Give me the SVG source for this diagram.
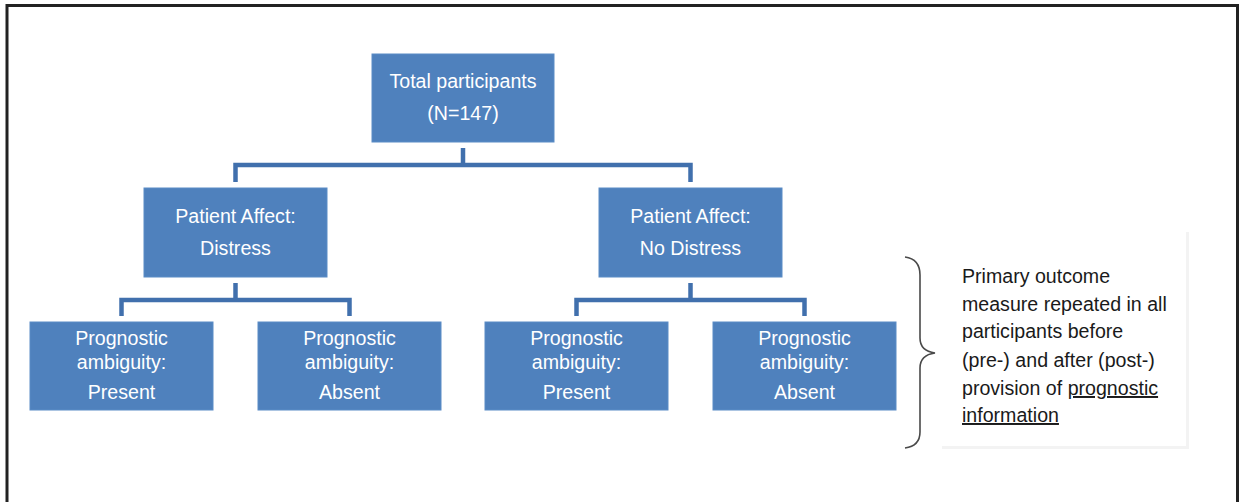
<svg xmlns="http://www.w3.org/2000/svg" width="1245" height="502" viewBox="0 0 1245 502">
  <style>
    .box { fill: #4f81bd; stroke: #5b8cc6; stroke-width: 1; }
    .lbl { fill: #ffffff; font-family: "Liberation Sans", Arial, sans-serif; font-size: 19.6px; text-anchor: middle; }
    .conn { fill: none; stroke: #4170ad; stroke-width: 4.5; stroke-linejoin: miter; }
    .note { fill: #1a1a1a; font-family: "Liberation Sans", Arial, sans-serif; font-size: 19.6px; }
  </style>
  <rect x="0" y="0" width="1245" height="502" fill="#ffffff"/>
  <path d="M7 502 V5.5 H1237.5 V502" fill="none" stroke="#222222" stroke-width="3"/>

  <g id="connectors">
    <path class="conn" d="M463 148 V165 M235.5 182 V165 H690.5 V182"/>
    <path class="conn" d="M235.5 283 V300 M121.5 316 V300 H349.5 V316"/>
    <path class="conn" d="M690.5 283 V300 M576.5 316 V300 H804.5 V316"/>
  </g>

  <g id="n-total">
    <rect class="box" x="372" y="54" width="182" height="88"/>
    <text class="lbl" x="463" y="88">Total participants</text>
    <text class="lbl" x="463" y="120">(N=147)</text>
  </g>

  <g id="n-distress">
    <rect class="box" x="144" y="188" width="183" height="89"/>
    <text class="lbl" x="235.5" y="223">Patient Affect:</text>
    <text class="lbl" x="235.5" y="255">Distress</text>
  </g>

  <g id="n-nodistress">
    <rect class="box" x="599" y="188" width="183" height="89"/>
    <text class="lbl" x="690.5" y="223">Patient Affect:</text>
    <text class="lbl" x="690.5" y="255">No Distress</text>
  </g>

  <g id="n-d-present">
    <rect class="box" x="30" y="322" width="183" height="88"/>
    <text class="lbl" x="121.5" y="345">Prognostic</text>
    <text class="lbl" x="121.5" y="369">ambiguity:</text>
    <text class="lbl" x="121.5" y="399">Present</text>
  </g>

  <g id="n-d-absent">
    <rect class="box" x="258" y="322" width="183" height="88"/>
    <text class="lbl" x="349.5" y="345">Prognostic</text>
    <text class="lbl" x="349.5" y="369">ambiguity:</text>
    <text class="lbl" x="349.5" y="399">Absent</text>
  </g>

  <g id="n-nd-present">
    <rect class="box" x="485" y="322" width="183" height="88"/>
    <text class="lbl" x="576.5" y="345">Prognostic</text>
    <text class="lbl" x="576.5" y="369">ambiguity:</text>
    <text class="lbl" x="576.5" y="399">Present</text>
  </g>

  <g id="n-nd-absent">
    <rect class="box" x="713" y="322" width="183" height="88"/>
    <text class="lbl" x="804.5" y="345">Prognostic</text>
    <text class="lbl" x="804.5" y="369">ambiguity:</text>
    <text class="lbl" x="804.5" y="399">Absent</text>
  </g>

  <g id="brace">
    <path d="M905 257 Q920 259 920 275 V338 Q920 351 935 353 Q920 355 920 368 V432 Q920 446 905 448" fill="none" stroke="#4a4a4a" stroke-width="1.6"/>
  </g>

  <g id="note">
    <rect x="942" y="232" width="247" height="217" fill="#f3f3f3"/>
    <rect x="940" y="230" width="246" height="216" fill="#ffffff"/>
    <text class="note" x="962" y="283">Primary outcome</text>
    <text class="note" x="962" y="311">measure repeated in all</text>
    <text class="note" x="962" y="338">participants before</text>
    <text class="note" x="962" y="367">(pre-) and after (post-)</text>
    <text class="note" x="962" y="395">provision of <tspan text-decoration="underline">prognostic</tspan></text>
    <text class="note" x="962" y="422" text-decoration="underline">information</text>
  </g>
</svg>
